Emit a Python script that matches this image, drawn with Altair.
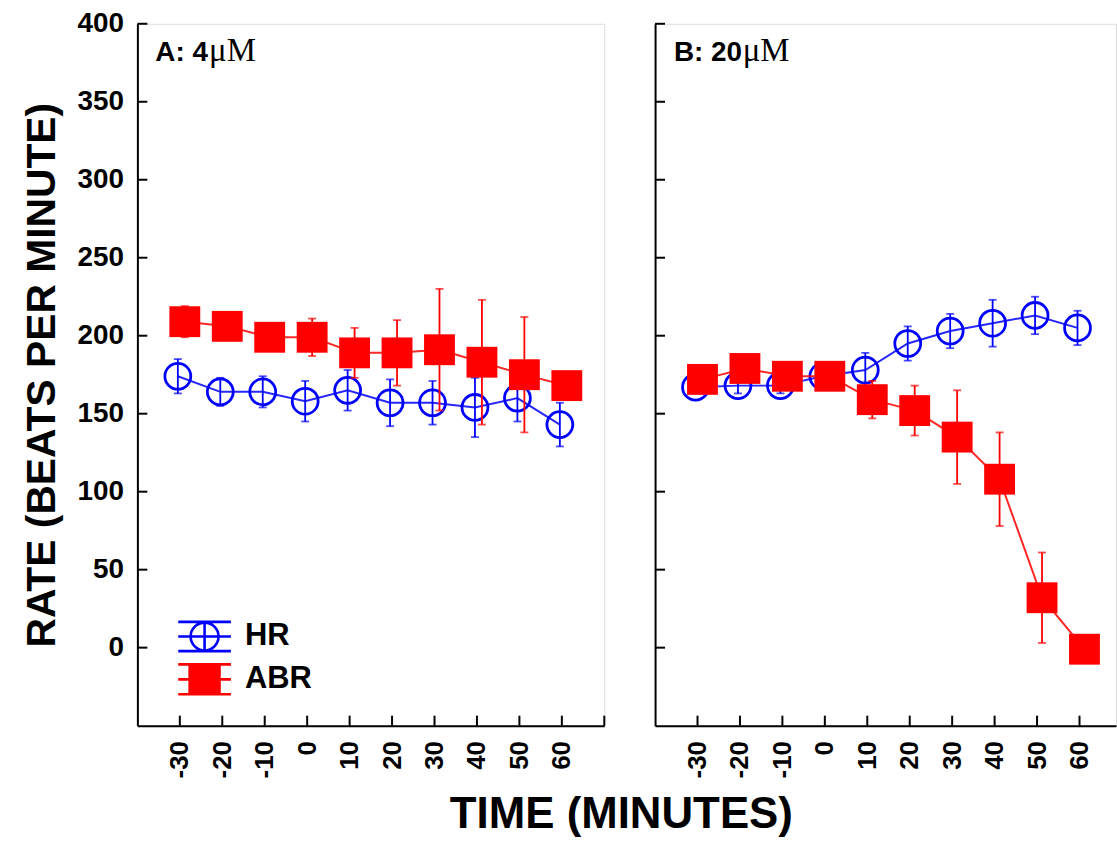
import altair as alt
import pandas as pd

# ---------------- data ----------------
time = [-30, -20, -10, 0, 10, 20, 30, 40, 50, 60]

a_hr = [174, 164, 164, 158, 165, 157, 157, 154, 160, 143]
a_hr_err = [11, 9, 10, 13, 13, 15, 14, 19, 15, 14]
a_abr = [209, 206, 199, 199, 189, 189, 191, 183, 175, 168]
a_abr_err = [10, 5, 4, 12, 16, 21, 39, 40, 37, 5]

b_hr = [167, 168, 168, 174, 178, 195, 203, 208, 213, 205]
b_hr_err = [4, 5, 5, 5, 11, 11, 11, 15, 12, 11]
b_abr = [172, 179, 174, 174, 159, 152, 135, 108, 32, -1]
b_abr_err = [4, 5, 4, 4, 12, 16, 30, 30, 29, 0]

series_names = ["HR", "ABR"]
series_colors = ["#0000FF", "#FF0000"]
panel_labels = ["A: 4", "B: 20"]
unit_label = "\u03bcM"
x_label_values = [-30, -20, -10, 0, 10, 20, 30, 40, 50, 60]
x_tick_values = [-30, -20, -10, 0, 10, 20, 30, 40, 50, 60, 70]
y_tick_values = [0, 50, 100, 150, 200, 250, 300, 350, 400]
y_title = "RATE (BEATS PER MINUTE)"
x_title = "TIME (MINUTES)"

SANS = "Liberation Sans"
SERIF = "Liberation Serif"
H = 705

# legend symbols (unit coordinates, scaled by sqrt(size)/2)
hr_path = ("M-0.667,0A0.667,0.667,0,1,1,0.667,0A0.667,0.667,0,1,1,-0.667,0Z"
           "M-1.26,-0.7H1.26M-1.26,0H1.26M-1.26,0.7H1.26M0,-0.667V0.667")
abr_path = ("M-0.714,-0.714H0.714V0.714H-0.714Z"
            "M-1.26,-0.714H1.26M-1.26,0H1.26M-1.26,0.714H1.26")


def make_df(hr, hr_err, abr, abr_err):
    rows = []
    for t, m, e in zip(time, hr, hr_err):
        rows.append({"time": t, "rate": m, "lo": m - e, "hi": m + e, "series": "HR"})
    for t, m, e in zip(time, abr, abr_err):
        rows.append({"time": t, "rate": m, "lo": m - e, "hi": m + e, "series": "ABR"})
    return pd.DataFrame(rows)


def panel(idx, hr, hr_err, abr, abr_err, xmax, width, first):
    df = make_df(hr, hr_err, abr, abr_err)
    xs = alt.Scale(domain=[-40, xmax], nice=False, zero=False)
    ys = alt.Scale(domain=[-50, 400], nice=False, zero=False)
    x_axis = alt.Axis(values=x_label_values, labelAngle=-90, ticks=False, tickSize=0,
                      grid=False, title=None, labelPadding=15, labelFontSize=26,
                      labelExpr="'' + datum.value",
                      labelFont=SANS, labelFontWeight="bold", labelColor="black",
                      domainColor="black", domainWidth=2)
    if first:
        y_axis = alt.Axis(values=y_tick_values, ticks=False, tickSize=0, grid=False,
                          title=y_title, titleFontSize=41, titleFont=SANS,
                          titleFontWeight="bold", titleColor="black", titlePadding=14,
                          labelPadding=14, labelFontSize=28, labelFont=SANS,
                          labelFontWeight="bold", labelColor="black",
                          domainColor="black", domainWidth=2)
    else:
        y_axis = alt.Axis(values=y_tick_values, ticks=False, tickSize=0, grid=False,
                          labels=False, title=None,
                          domainColor="black", domainWidth=2)

    X = alt.X("time:Q", scale=xs, axis=x_axis)
    Y = alt.Y("rate:Q", scale=ys, axis=y_axis)

    base = alt.Chart(df)
    layers = []
    for name, color, dx in (("HR", series_colors[0], -2), ("ABR", series_colors[1], 5)):
        sub = base.transform_filter(alt.datum.series == name)
        line = sub.mark_line(color=color, strokeWidth=2, opacity=0.85, xOffset=dx).encode(x=X, y=Y)
        err = sub.mark_rule(color=color, strokeWidth=1.8, xOffset=dx).encode(
            x=X, y=alt.Y("lo:Q", scale=ys, axis=y_axis), y2="hi:Q")
        cap_hi = sub.mark_tick(color=color, orient="horizontal", size=8, thickness=1.8,
                               xOffset=dx).encode(x=X, y=alt.Y("hi:Q", scale=ys, axis=y_axis))
        cap_lo = sub.mark_tick(color=color, orient="horizontal", size=8, thickness=1.8,
                               xOffset=dx).encode(x=X, y=alt.Y("lo:Q", scale=ys, axis=y_axis))
        if name == "HR":
            pts = sub.mark_point(shape="circle", filled=False, color=color, strokeWidth=2.8,
                                 size=676, opacity=1, xOffset=dx).encode(x=X, y=Y)
        else:
            pts = sub.mark_point(shape="square", filled=True, color=color, size=961,
                                 opacity=1, xOffset=dx).encode(x=X, y=Y)
        layers += [line, err, cap_hi, cap_lo, pts]

    # inward tick marks
    ytk = alt.Chart(pd.DataFrame({"v": y_tick_values})).mark_rule(
        color="black", strokeWidth=2).encode(
        y=alt.Y("v:Q", scale=ys, axis=y_axis), x=alt.value(0), x2=alt.value(10))
    xvals = [v for v in x_tick_values if v <= xmax]
    xtk = alt.Chart(pd.DataFrame({"v": xvals})).mark_rule(
        color="black", strokeWidth=2).encode(
        x=alt.X("v:Q", scale=xs, axis=x_axis), y=alt.value(H), y2=alt.value(H - 10))
    layers += [ytk, xtk]

    # panel label
    lab_df = pd.DataFrame({"t": [panel_labels[idx]], "u": [unit_label]})
    lab_x = 18 if idx == 0 else 19
    lab = alt.Chart(lab_df).mark_text(align="left", baseline="alphabetic", font=SANS,
                                      fontWeight="bold", fontSize=28, color="black").encode(
        text="t:N", x=alt.value(lab_x), y=alt.value(37))
    uoff = 54 if idx == 0 else 69
    unit = alt.Chart(lab_df).mark_text(align="left", baseline="alphabetic", font=SERIF,
                                       fontSize=33, color="black").encode(
        text="u:N", x=alt.value(lab_x + uoff), y=alt.value(37))
    layers += [lab, unit]

    if first:
        leg = alt.Legend(title=None, orient="none", legendX=45, legendY=593,
                         symbolSize=1764, symbolStrokeWidth=2.6, labelFont=SANS,
                         labelFontWeight="bold", labelFontSize=31, labelColor="black",
                         labelOffset=18, rowPadding=0, padding=0, symbolOpacity=1)
        legend_layer = base.transform_filter("false").mark_point().encode(
            x=X, y=Y,
            shape=alt.Shape("series:N", scale=alt.Scale(domain=series_names,
                                                        range=[hr_path, abr_path]), legend=leg),
            stroke=alt.Stroke("series:N", scale=alt.Scale(domain=series_names,
                                                          range=series_colors), legend=leg),
            fill=alt.Fill("series:N", scale=alt.Scale(domain=series_names,
                                                      range=["transparent", series_colors[1]]),
                          legend=leg),
        )
        layers.append(legend_layer)

    return alt.layer(*layers).properties(width=width, height=H)


pa = panel(0, a_hr, a_hr_err, a_abr, a_abr_err, 70, 469, True)
pb = panel(1, b_hr, b_hr_err, b_abr, b_abr_err, 68.6, 463, False)

chart = alt.hconcat(pa, pb, spacing=47).resolve_scale(
    x="independent", shape="independent", stroke="independent", fill="independent"
).resolve_legend(shape="independent", stroke="independent", fill="independent").properties(
    title=alt.TitleParams(x_title, orient="bottom", anchor="middle", font=SANS,
                          fontWeight="bold", fontSize=44, color="black", offset=15, dx=53)
).configure_view(strokeWidth=0).configure(padding={"left": 20, "top": 7, "right": 0, "bottom": 0})

chart.save("out.html", embed_options={"renderer": "svg", "actions": False})
